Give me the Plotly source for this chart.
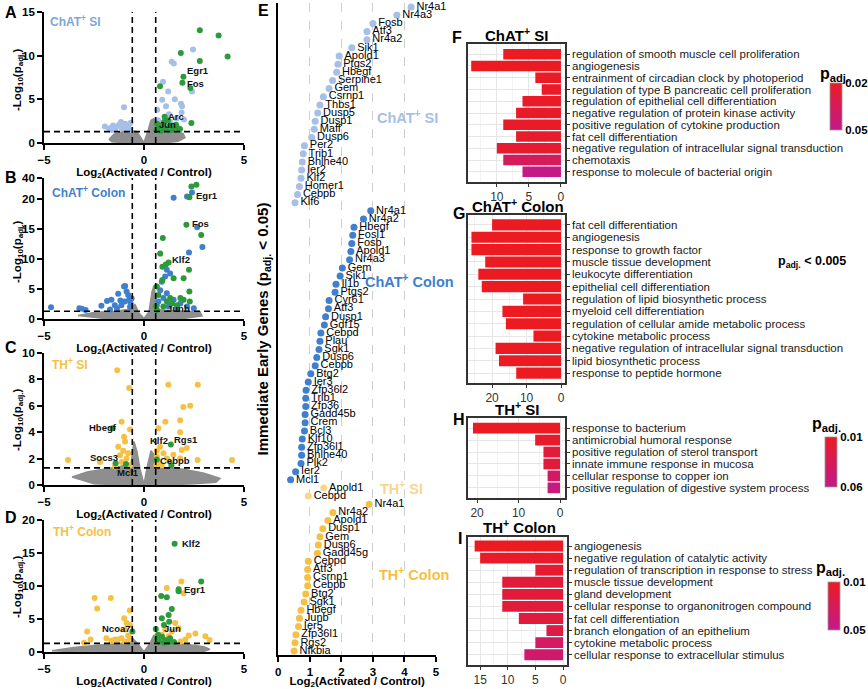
import numpy as np
import plotly.graph_objects as go

W, H = 868, 689
FONT = "Liberation Sans, Arial, Helvetica, sans-serif"

FC_CUT = float(np.log2(1.5))
P_CUT = float(-np.log10(0.05))
B_BREAK = 21.5

C_LBLUE = "#a6bfe7"
C_BLUE = "#3f7fcd"
C_YEL = "#f6c142"
C_PYEL = "#f8d68c"
C_GREEN = "#2b9a3a"
C_GREY = "#8e8e8e"

# ---------------- Panel A : ChAT+ SI volcano ----------------
A_grey_x = [-1.75, -1.5, -1.0, -0.6, -0.35, 0.0, 0.2, 0.35, 0.5, 0.65, 1.0, 1.5, 1.95, 2.05, 1.7, 1.0, 0.3, 0.0, -0.3, -1.0, -1.6, -1.75]
A_grey_y = [0.4, 1.0, 1.35, 1.4, 1.3, 0.05, 1.4, 2.6, 2.8, 1.6, 1.5, 1.4, 1.1, 0.6, 0.2, 0.0, 0.0, 0.0, 0.0, 0.0, 0.15, 0.4]
A_sig_x = [-1.96, -1.75, -1.55, -1.4, -1.25, -1.1, -0.95, -0.8, -0.68, -1.0, -1.45, -0.85, -0.72, -1.62, -1.15,
           2.45, 1.38, 1.49, 0.95, 2.40, 1.21, 1.54, 1.10, 1.85, 1.88, 0.66, 1.25, 0.91, 1.90, 0.70, 0.78, 1.05, 1.32, 1.62, 2.0, 0.9, 1.12, 1.52, 0.7, 0.82]
A_sig_y = [1.9, 1.7, 2.0, 1.8, 2.1, 1.7, 2.2, 1.9, 2.3, 4.1, 1.5, 1.6, 1.5, 1.5, 2.4,
           10.7, 9.3, 9.1, 7.0, 5.9, 5.9, 5.0, 4.2, 4.5, 3.5, 3.8, 3.3, 4.95, 4.2, 2.6, 2.2, 2.6, 2.4, 2.8, 2.7, 1.8, 1.9, 2.0, 1.6, 1.5]
A_ieg_x = [2.79, 3.73, 4.18, 2.79, 1.84, 1.97, 1.92, 2.32, 0.80, 2.37, 1.03, 0.65, 0.75, 0.90, 1.10, 1.30, 1.50, 1.70, 0.62, 1.00, 1.20, 1.40, 0.85, 1.6, 1.8]
A_ieg_y = [12.9, 12.3, 9.9, 9.4, 10.3, 7.6, 6.9, 6.3, 6.5, 2.3, 3.0, 2.2, 1.7, 2.0, 1.6, 2.0, 1.8, 1.7, 1.5, 2.4, 2.6, 1.5, 1.4, 2.1, 1.6]

# ---------------- Panel B : ChAT+ Colon volcano ----------------
B_grey_x = [-3.3, -2.5, -1.5, -0.8, -0.45, -0.25, 0.0, 0.25, 0.4, 0.5, 0.6, 0.75, 1.2, 2.0, 2.8, 2.9, 2.0, 1.0, 0.0, -1.0, -2.0, -3.3]
B_grey_y = [0.6, 1.1, 1.3, 1.6, 2.4, 1.0, 0.1, 1.2, 4.5, 5.6, 3.0, 1.6, 1.4, 1.3, 1.2, 0.5, 0.1, 0.0, 0.0, 0.0, 0.1, 0.6]
B_sig_x = [-4.65, -3.23, -3.10, -2.92, -2.13, -1.85, -1.63, -1.46, -1.29, -1.18, -1.00, -0.94, -0.87, -0.79, -0.74, -0.67, -0.96, -0.62, -1.13, -1.35, -1.7, -0.7,
           1.48, 2.15, 2.40, 2.66, 2.92, 2.25, 1.14, 1.31, 1.06, 0.89, 0.81, 1.14, 0.97, 1.48, 1.82, 2.15, 0.72, 1.23, 1.65, 0.64, 2.49]
B_sig_y = [1.95, 1.8, 1.7, 1.5, 2.2, 3.0, 3.2, 2.3, 4.2, 3.1, 5.4, 5.5, 4.6, 4.0, 3.2, 2.6, 2.9, 3.4, 2.3, 1.8, 1.6, 2.0,
           20.2, 20.4, 21.1, 15.3, 12.0, 11.1, 8.2, 7.6, 7.1, 6.2, 4.8, 4.3, 3.5, 3.2, 2.6, 2.1, 2.9, 2.1, 1.8, 2.3, 1.8]
B_ieg_x = [2.37, 2.62, 2.27, 2.12, 2.86, 0.94, 0.81, 1.09, 1.23, 0.92, 2.25, 1.98, 1.48, 0.92, 2.27, 2.29, 0.64, 0.72, 1.31, 1.82, 0.60, 0.64, 0.97, 1.65, 1.98, 1.40, 1.14]
B_ieg_y = [27.0, 29.5, 20.3, 15.7, 14.0, 13.5, 10.9, 9.1, 9.4, 8.7, 8.2, 6.8, 6.8, 6.5, 4.6, 2.9, 5.4, 4.0, 3.5, 3.5, 2.1, 1.5, 2.1, 2.3, 3.2, 2.6, 2.9]

# ---------------- Panel C : TH+ SI volcano ----------------
C_grey_x = [-3.6, -2.8, -2.0, -1.2, -0.65, -0.5, -0.35, -0.2, 0.0, 0.15, 0.35, 0.5, 0.62, 1.0, 2.0, 3.0, 3.8, 3.6, 2.5, 1.0, 0.0, -1.0, -2.5, -3.6]
C_grey_y = [0.6, 1.0, 1.2, 1.4, 1.6, 3.3, 2.5, 1.2, 0.05, 1.3, 2.6, 2.3, 1.5, 1.3, 1.2, 0.9, 0.5, 0.2, 0.1, 0.0, 0.0, 0.0, 0.1, 0.6]
C_sig_x = [-1.34, -0.74, 1.22, 2.69, 1.97, 2.31, 1.07, 0.72, 1.81, 1.81, -1.12, -0.70, -3.80, -2.20, -1.45, -1.20, -1.04, -0.95, -0.87, -0.79, -1.12, -0.70, -1.29, -1.00,
           0.64, 0.80, 0.97, 1.14, 0.72, 0.89, 1.30, 1.47, 1.89, 2.14, 1.81, 4.40, 2.68, 0.64, 0.62]
C_sig_y = [8.7, 7.35, 7.6, 7.6, 5.9, 6.0, 4.8, 4.3, 4.0, 4.9, 4.8, 4.2, 1.9, 1.75, 1.4, 2.25, 2.6, 3.3, 2.0, 2.4, 1.75, 1.5, 2.9, 3.65,
           2.6, 2.9, 2.4, 2.0, 1.76, 1.5, 1.76, 2.3, 2.65, 2.8, 2.0, 1.9, 1.9, 2.15, 1.5]
C_ieg_x = [-1.57, -1.42, -0.90, 0.64, 1.34, 1.37]
C_ieg_y = [4.3, 1.64, 1.6, 1.94, 3.07, 1.5]

# ---------------- Panel D : TH+ Colon volcano ----------------
D_grey_x = [-4.6, -3.5, -2.5, -1.5, -0.8, -0.55, -0.3, 0.0, 0.3, 0.5, 0.65, 1.0, 2.0, 3.0, 3.3, 3.0, 2.0, 0.5, 0.0, -0.5, -2.0, -3.5, -4.6]
D_grey_y = [0.2, 0.7, 1.0, 1.2, 1.4, 2.0, 1.2, 0.05, 1.3, 2.6, 1.6, 1.4, 1.2, 0.8, 0.4, 0.1, 0.0, 0.0, 0.0, 0.0, 0.0, 0.05, 0.2]
D_sig_x = [1.87, 1.14, 1.98, -2.47, -1.66, -2.34, -0.71, -0.99, -0.87, -2.84, -2.67, -3.00, -1.88, -1.46, -1.13, -0.79, -0.71, -0.96, -1.30, -1.63,
           3.07, 3.28, 2.24, 2.07, 1.82, 2.57, 1.56, 1.73, 1.39, 1.06, 0.89, 1.23, 0.64, -0.70, -0.96]
D_sig_y = [10.7, 9.7, 8.9, 8.2, 8.2, 6.6, 6.3, 5.1, 4.4, 3.1, 1.9, 1.4, 2.1, 1.9, 2.1, 2.5, 1.9, 1.6, 1.9, 1.7,
           2.4, 1.8, 2.5, 1.9, 1.6, 2.8, 4.4, 3.6, 3.1, 3.4, 2.6, 2.4, 2.1, 4.1, 3.4]
D_ieg_x = [1.53, 2.86, 1.73, 1.73, 0.86, 1.14, 1.39, 1.23, 0.89, 1.26, 1.00, 0.59, -0.58, 0.65, 0.75, 0.90, 1.05, 1.20, 0.70, 1.30, 1.00, 1.50]
D_ieg_y = [16.4, 10.7, 9.5, 9.2, 8.5, 8.3, 6.5, 5.6, 5.1, 4.6, 4.1, 3.5, 3.1, 2.0, 1.6, 2.3, 1.8, 1.5, 2.6, 2.1, 1.4, 1.5]

# ---------------- Panel E : IEG fold changes ----------------
E_chat_si_genes = ["Nr4a1", "Nr4a3", "Fosb", "Atf3", "Nr4a2", "Sik1", "Apold1", "Ptgs2", "Hbegf", "Serpine1", "Gem", "Csrnp1", "Thbs1",
                   "Dusp5", "Dusp1", "Maff", "Dusp6", "Per2", "Trib1", "Bhlhe40", "Ier2", "Klf2", "Homer1", "Cebpb", "Klf6"]
E_chat_si_fc = [4.21, 3.76, 3.00, 2.81, 2.81, 2.33, 1.93, 1.89, 1.85, 1.72, 1.61, 1.43, 1.32, 1.25, 1.17, 1.14, 1.06, 0.83, 0.79, 0.76, 0.74, 0.72, 0.67, 0.61, 0.53]
E_chat_colon_genes = ["Nr4a1", "Nr4a2", "Hbegf", "Fosl1", "Fosb", "Apold1", "Nr4a3", "Gem", "Sik1", "Il1b", "Ptgs2", "Cyr61", "Atf3", "Dusp1",
                      "Gdf15", "Cebpd", "Plau", "Sgk1", "Dusp6", "Cebpb", "Btg2", "Ier3", "Zfp36l2", "Trib1", "Zfp36", "Gadd45b", "Crem",
                      "Bcl3", "Klf10", "Zfp36l1", "Bhlhe40", "Plk2", "Ier2", "Mcl1"]
E_chat_colon_fc = [2.93, 2.70, 2.40, 2.36, 2.33, 2.30, 2.26, 2.03, 1.96, 1.83, 1.80, 1.61, 1.59, 1.50, 1.46, 1.35, 1.32, 1.29, 1.22, 1.17,
                   1.03, 0.95, 0.88, 0.87, 0.87, 0.85, 0.85, 0.83, 0.76, 0.74, 0.74, 0.72, 0.55, 0.39]
E_th_si_genes = ["Apold1", "Cebpd"]
E_th_si_fc = [1.44, 0.95]
E_th_colon_genes = ["Nr4a1", "Nr4a2", "Apold1", "Dusp1", "Gem", "Dusp6", "Gadd45g", "Cebpd", "Atf3", "Csrnp1", "Cebpb", "Btg2", "Sgk1",
                    "Hbegf", "Junb", "Ier5", "Zfp36l1", "Rgs2", "Nfkbia"]
E_th_colon_fc = [2.88, 1.73, 1.57, 1.41, 1.32, 1.27, 1.24, 0.95, 0.93, 0.93, 0.93, 0.87, 0.82, 0.72, 0.67, 0.64, 0.56, 0.53, 0.50]

# ---------------- Panels F-I : GO enrichment ----------------
F_terms = ["regulation of smooth muscle cell proliferation", "angiogenesis", "entrainment of circadian clock by photoperiod",
           "regulation of type B pancreatic cell proliferation", "regulation of epithelial cell differentiation",
           "negative regulation of protein kinase activity", "positive regulation of cytokine production", "fat cell differentiation",
           "negative regulation of intracellular signal transduction", "chemotaxis", "response to molecule of bacterial origin"]
F_counts = [9, 14, 4, 3, 6, 7, 9, 7, 10, 9, 6]
F_padj = [0.020, 0.020, 0.021, 0.022, 0.022, 0.022, 0.022, 0.023, 0.024, 0.036, 0.048]

G_terms = ["fat cell differentiation", "angiogenesis", "response to growth factor", "muscle tissue development", "leukocyte differentiation",
           "epithelial cell differentiation", "regulation of lipid biosynthetic process", "myeloid cell differentiation",
           "regulation of cellular amide metabolic process", "cytokine metabolic process",
           "negative regulation of intracellular signal transduction", "lipid biosynthetic process", "response to peptide hormone"]
G_counts = [20, 26, 26, 22, 24, 23, 11, 17, 16, 8, 19, 18, 13]

H_terms = ["response to bacterium", "antimicrobial humoral response", "positive regulation of sterol transport",
           "innate immune response in mucosa", "cellular response to copper ion", "positive regulation of digestive system process"]
H_counts = [21, 6, 4, 4, 3, 3]
H_padj = [0.010, 0.015, 0.022, 0.022, 0.042, 0.054]

I_terms = ["angiogenesis", "negative regulation of catalytic activity", "regulation of transcription in response to stress",
           "muscle tissue development", "gland development", "cellular response to organonitrogen compound", "fat cell differentiation",
           "branch elongation of an epithelium", "cytokine metabolic process", "cellular response to extracellular stimulus"]
I_counts = [16, 15, 5, 11, 11, 11, 8, 3, 5, 7]
I_padj = [0.010, 0.012, 0.016, 0.019, 0.019, 0.019, 0.021, 0.023, 0.034, 0.037]

SCALE = [[0.0, "#c21a8c"], [1.0, "#ec1b22"]]

# ---------------- helpers ----------------
def xdom(a, b):
    return [a / W, b / W]

def ydom(top, bot):
    return [1 - bot / H, 1 - top / H]

def px(x):
    return x / W

def py(y):
    return 1 - y / H

def axname(a):
    return a[0] + "axis" + a[1:]

def bold(size, color="black"):
    return dict(family=FONT, size=size, color=color, weight="bold")

def reg(size, color="black"):
    return dict(family=FONT, size=size, color=color)

fig = go.Figure()
layout = {}
shapes = []
annotations = []

XT = "Log<sub>2</sub>(Activated / Control)"
YT = "-Log<sub>10</sub>(p<sub>adj.</sub>)"

def vol_x(xa, ya, xd, visible=True):
    layout[axname(xa)] = dict(domain=xd, anchor=ya, range=[-5, 5], tickvals=[-5, 0, 5], ticks="outside", ticklen=5,
                              tickwidth=1.8, tickcolor="black", showline=True, linewidth=1.8, linecolor="black",
                              showgrid=False, zeroline=False, tickfont=bold(11.5), automargin=False, visible=visible,
                              title=dict(text=XT, font=bold(11.5), standoff=1))

def vol_y(ya, xa, yd, yr, tv, title_center=None):
    layout[axname(ya)] = dict(domain=yd, anchor=xa, range=yr, tickvals=tv, ticks="outside", ticklen=5,
                              tickwidth=1.8, tickcolor="black", showline=True, linewidth=1.8, linecolor="black",
                              showgrid=False, zeroline=False, tickfont=bold(11.5), automargin=False)
    if title_center is not None:
        annotations.append(dict(text=YT, x=px(18), y=py(title_center), xref="paper", yref="paper", textangle=-90,
                                xanchor="center", yanchor="middle", showarrow=False, font=bold(11.5)))

def thresholds(xa, ya, hline=True):
    for v in (-FC_CUT, FC_CUT):
        shapes.append(dict(type="line", xref=xa, yref=ya + " domain", x0=v, x1=v, y0=0, y1=1,
                           line=dict(color="black", width=1.6, dash="6px,4px")))
    if hline:
        shapes.append(dict(type="line", xref=xa + " domain", yref=ya, x0=0, x1=1, y0=P_CUT, y1=P_CUT,
                           line=dict(color="black", width=1.6, dash="6px,4px")))

def vol_points(xa, ya, gx, gy, sx, sy, scol, ix, iy):
    if gx is not None:
        fig.add_trace(go.Scatter(x=gx, y=gy, mode="lines", fill="toself", fillcolor=C_GREY,
                                 line=dict(color=C_GREY, width=1.5), xaxis=xa, yaxis=ya, hoverinfo="skip"))
    fig.add_trace(go.Scatter(x=sx, y=sy, mode="markers", marker=dict(color=scol, size=6),
                             xaxis=xa, yaxis=ya, cliponaxis=False))
    fig.add_trace(go.Scatter(x=ix, y=iy, mode="markers", marker=dict(color=C_GREEN, size=6),
                             xaxis=xa, yaxis=ya, cliponaxis=False))

def gene_labels(xa, ya, items):
    for txt, x, y in items:
        annotations.append(dict(text=txt, x=x, y=y, xref=xa, yref=ya, xanchor="left", yanchor="middle",
                                showarrow=False, font=bold(9.5, "#111111")))

VX = xdom(44, 244)

# Panel A
vol_x("x", "y", VX)
vol_y("y", "x", ydom(12, 143), [0, 15], [0, 5, 10, 15], title_center=80)
vol_points("x", "y", A_grey_x, A_grey_y, A_sig_x, A_sig_y, C_LBLUE, A_ieg_x, A_ieg_y)
thresholds("x", "y")
gene_labels("x", "y", [("Egr1", 2.04, 8.3), ("Fos", 2.07, 6.8), ("Arc", 1.11, 3.0), ("Jun", 0.66, 2.1)])

# Panel B (broken y axis)
vol_x("x2", "y2", VX)
vol_x("x3", "y3", VX, visible=False)
vol_y("y2", "x2", ydom(190, 319), [0, B_BREAK], [0, 5, 10, 15, 20], title_center=252)
vol_y("y3", "x3", ydom(178, 190), [B_BREAK, 40], [40])
bsx = np.array(B_sig_x); bsy = np.array(B_sig_y)
bix = np.array(B_ieg_x); biy = np.array(B_ieg_y)
lo_s = bsy <= B_BREAK; lo_i = biy <= B_BREAK
vol_points("x2", "y2", B_grey_x, B_grey_y, bsx[lo_s], bsy[lo_s], C_BLUE, bix[lo_i], biy[lo_i])
vol_points("x3", "y3", None, None, bsx[~lo_s], bsy[~lo_s], C_BLUE, bix[~lo_i], biy[~lo_i])
thresholds("x2", "y2")
thresholds("x3", "y3", hline=False)
gene_labels("x2", "y2", [("Egr1", 2.49, 20.6), ("Fos", 2.29, 16.0), ("Klf2", 1.31, 9.9), ("Junb", 1.06, 1.8)])

# Panel C
vol_x("x4", "y4", VX)
vol_y("y4", "x4", ydom(353, 485), [0, 10], [0, 2, 4, 6, 8, 10], title_center=420)
vol_points("x4", "y4", C_grey_x, C_grey_y, C_sig_x, C_sig_y, C_YEL, C_ieg_x, C_ieg_y)
thresholds("x4", "y4")
gene_labels("x4", "y4", [("Hbegf", -2.84, 4.35), ("Socs3", -2.8, 2.1), ("Mcl1", -1.45, 0.93), ("Klf2", 0.22, 3.4),
                         ("Rgs1", 1.42, 3.45), ("Cebpb", 0.72, 1.84)])

# Panel D
vol_x("x5", "y5", VX)
vol_y("y5", "x5", ydom(520, 652), [0, 20], [0, 5, 10, 15, 20], title_center=587)
vol_points("x5", "y5", D_grey_x, D_grey_y, D_sig_x, D_sig_y, C_YEL, D_ieg_x, D_ieg_y)
thresholds("x5", "y5")
gene_labels("x5", "y5", [("Klf2", 1.82, 16.4), ("Egr1", 1.9, 9.4), ("Ncoa7", -2.22, 3.5), ("Jun", 0.89, 3.5)])

# inset titles of volcanoes
for txt, col, x, y in [("ChAT<sup>+</sup> SI", "#7ea6dd", 48, 21), ("ChAT<sup>+</sup> Colon", C_BLUE, 50, 192),
                       ("TH<sup>+</sup> SI", C_YEL, 50, 364), ("TH<sup>+</sup> Colon", C_YEL, 51, 531)]:
    annotations.append(dict(text=txt, x=px(x), y=py(y), xref="paper", yref="paper", xanchor="left", yanchor="middle",
                            showarrow=False, font=bold(12, col)))

# Panel E
groups = [(E_chat_si_genes, E_chat_si_fc, C_LBLUE), (E_chat_colon_genes, E_chat_colon_fc, C_BLUE),
          (E_th_si_genes, E_th_si_fc, C_PYEL), (E_th_colon_genes, E_th_colon_fc, C_YEL)]
n_total = sum(len(g[0]) for g in groups)
offset = 0
for genes, fc, col in groups:
    ypos = np.arange(len(genes)) + offset
    fig.add_trace(go.Scatter(x=fc, y=ypos, mode="markers+text", text=genes, textposition="middle right",
                             textfont=reg(11, "black"), marker=dict(color=col, size=7),
                             xaxis="x6", yaxis="y6", cliponaxis=False))
    offset += len(genes)

layout["xaxis6"] = dict(domain=xdom(278.3, 436), anchor="y6", range=[0, 5], tickvals=[0, 1, 2, 3, 4, 5], ticks="outside",
                        ticklen=5, tickwidth=1.5, tickcolor="black", showline=True, linewidth=1.5, linecolor="black",
                        showgrid=True, gridcolor="#cfcfcf", gridwidth=1, griddash="dash", zeroline=False,
                        tickfont=bold(11.5), automargin=False, title=dict(text=XT, font=bold(11.5), standoff=1))
layout["yaxis6"] = dict(domain=ydom(3, 655), anchor="x6", range=[n_total - 0.5, -0.5], showticklabels=False, ticks="",
                        showline=True, linewidth=1.5, linecolor="black", showgrid=False, zeroline=False, automargin=False,
                        title=dict(text="Immediate Early Genes (p<sub>adj.</sub> &lt; 0.05)", font=bold(15), standoff=4))
for txt, col, x, y in [("ChAT<sup>+</sup> SI", C_LBLUE, 4.1, 13.5), ("ChAT<sup>+</sup> Colon", C_BLUE, 4.16, 33.6),
                       ("TH<sup>+</sup> SI", C_PYEL, 3.9, 59.0), ("TH<sup>+</sup> Colon", C_YEL, 4.3, 69.6)]:
    annotations.append(dict(text=txt, x=x, y=y, xref="x6", yref="y6", xanchor="center", yanchor="middle",
                            showarrow=False, font=bold(14.5, col)))

# Panels F-I
def bar_panel(xa, ya, terms, counts, color, box, xr, dtick, ypad, cbar=None, cmin=None, cmax=None):
    marker = dict(color=color, line=dict(width=0))
    if cbar is not None:
        marker.update(colorscale=SCALE, cmin=cmin, cmax=cmax, showscale=True, colorbar=cbar)
    fig.add_trace(go.Bar(x=counts, y=terms, orientation="h", width=0.9, marker=marker, xaxis=xa, yaxis=ya))
    n = len(terms)
    layout[axname(xa)] = dict(domain=xdom(box[0], box[1]), anchor=ya, range=xr, dtick=dtick, tick0=0, ticks="outside",
                              ticklen=3, tickcolor="#333333", tickfont=reg(12, "#333333"), showline=True, mirror=True,
                              linecolor="#333333", linewidth=1.5, showgrid=True, gridcolor="#e6e6e6", gridwidth=1,
                              minor=dict(dtick=dtick / 2, tick0=0, showgrid=True, gridcolor="#f3f3f3", gridwidth=0.6),
                              zeroline=False, automargin=False)
    layout[axname(ya)] = dict(domain=ydom(box[2], box[3]), anchor=xa, type="category", categoryorder="array",
                              categoryarray=terms, tickmode="array", tickvals=terms, ticktext=terms,
                              range=[n - 1 + ypad[1], -ypad[0]], side="right", ticks="outside",
                              ticklen=3, tickcolor="#333333", tickfont=reg(11.5, "#1a1a1a"), showline=True, mirror=True,
                              linecolor="#333333", linewidth=1.5, showgrid=True, gridcolor="#e6e6e6", gridwidth=1,
                              zeroline=False, automargin=False)

def cbar(x_left, y_top, y_bot, lo, hi):
    return dict(x=px(x_left), xanchor="left", xpad=0, y=py((y_top + y_bot) / 2), yanchor="middle", ypad=0,
                len=y_bot - y_top, lenmode="pixels", thickness=12, thicknessmode="pixels",
                tickvals=[-lo, -hi], ticktext=[f"{lo:.2f}", f"{hi:.2f}"], ticks="", tickfont=bold(11.5),
                outlinewidth=0.8, outlinecolor="#999999")

bar_panel("x7", "y7", F_terms, F_counts, list(-np.array(F_padj)), (468, 565, 44, 182), [14.5, -0.63], 5, (0.87, 0.87),
          cbar(830, 83, 130, 0.02, 0.05), -0.0501, -0.0199)
bar_panel("x8", "y8", G_terms, G_counts, "#ec1b22", (468, 565, 215, 383), [27.0, -1.16], 10, (0.8, 0.8))
bar_panel("x9", "y9", H_terms, H_counts, list(-np.array(H_padj)), (468, 565, 418, 498), [22.2, -1.2], 10, (0.85, 0.85),
          cbar(825, 437, 487, 0.01, 0.06), -0.0601, -0.0099)
bar_panel("x10", "y10", I_terms, I_counts, list(-np.array(I_padj)), (468, 567, 537, 665), [17.2, -0.72], 5, (0.75, 0.85),
          cbar(828, 582, 630, 0.01, 0.05), -0.0501, -0.0099)

for txt, x, y in [("ChAT<sup>+</sup> SI", 516, 34), ("ChAT<sup>+</sup> Colon", 518, 205), ("TH<sup>+</sup> SI", 517, 408),
                  ("TH<sup>+</sup> Colon", 519, 526)]:
    annotations.append(dict(text=txt, x=px(x), y=py(y), xref="paper", yref="paper", xanchor="center", yanchor="middle",
                            showarrow=False, font=bold(15)))
for x, y in [(834, 74), (826, 424), (830, 568)]:
    annotations.append(dict(text="p<sub>adj.</sub>", x=px(x), y=py(y), xref="paper", yref="paper", xanchor="center",
                            yanchor="middle", showarrow=False, font=bold(16)))
annotations.append(dict(text="p<sub>adj.</sub> &lt; 0.005", x=px(812), y=py(262), xref="paper", yref="paper",
                        xanchor="center", yanchor="middle", showarrow=False, font=bold(12.5)))

# panel letters
for L, x, y in [("A", 3, 13), ("B", 3, 177), ("C", 3, 347), ("D", 3, 517), ("E", 256, 11), ("F", 450, 37),
                ("G", 451, 214), ("H", 451, 419), ("I", 456, 538)]:
    annotations.append(dict(text=L, x=px(x), y=py(y), xref="paper", yref="paper", xanchor="left", yanchor="middle",
                            showarrow=False, font=bold(16)))

fig.update_layout(width=W, height=H, margin=dict(l=0, r=0, t=0, b=0), showlegend=False,
                  plot_bgcolor="white", paper_bgcolor="white", font=dict(family=FONT),
                  shapes=shapes, annotations=annotations, bargap=0.1, **layout)
fig.write_html("out.html", config={"displayModeBar": False},
               post_script="document.body.style.margin='0';document.body.style.overflow='hidden';")
